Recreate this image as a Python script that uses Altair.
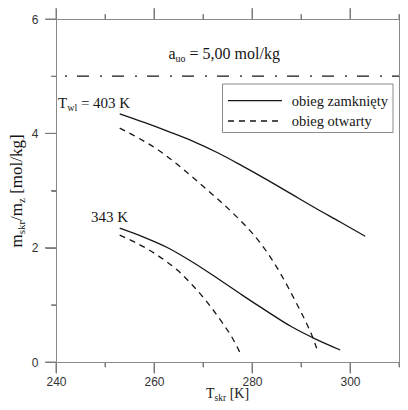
import altair as alt
import pandas as pd

# ---- data ----
x_major = [240, 260, 280, 300]
x_minor = [250, 270, 290, 310]
y_major = [0, 2, 4, 6]
y_minor = [1, 3, 5]

T_403_closed = [253, 258, 263, 268, 273, 278, 283, 288, 293, 298, 303.1]
m_403_closed = [4.34, 4.19, 4.03, 3.86, 3.66, 3.43, 3.19, 2.94, 2.69, 2.45, 2.20]
T_403_open = [253, 257, 261, 265, 269, 273, 277, 280, 283, 286, 289, 291, 292.3, 293.2]
m_403_open = [4.09, 3.91, 3.70, 3.44, 3.15, 2.85, 2.53, 2.26, 1.93, 1.52, 1.04, 0.70, 0.45, 0.24]
T_343_closed = [253, 258, 263, 268, 273, 278, 283, 288, 293, 298]
m_343_closed = [2.34, 2.18, 1.99, 1.74, 1.46, 1.17, 0.89, 0.62, 0.40, 0.21]
T_343_open = [253, 256, 259, 262, 265, 268, 271, 274, 276, 277.8]
m_343_open = [2.22, 2.10, 1.96, 1.79, 1.59, 1.33, 1.03, 0.68, 0.42, 0.12]

a_uo = 5.00

legend_labels = ["obieg zamknięty", "obieg otwarty"]

GRAY = "#8a8a8a"
TICK = "#7a7a7a"
INK = "#161616"
SERIF = "Liberation Serif"
W, H = 343, 343
MAJ, MIN = 11, 5

xscale = alt.Scale(domain=[240, 310], nice=False, zero=False)
yscale = alt.Scale(domain=[0, 6], nice=False, zero=False)

lab = dict(labelFont="Liberation Sans", labelFontSize=12, labelColor="#333",
           labelFlush=False, labelOverlap=False)
tk = dict(ticks=True, tickColor=TICK, tickWidth=1, gridOpacity=0, title=None, zindex=3)

ax = {
    "xb": alt.Axis(orient="bottom", values=x_major, tickSize=MAJ, domainColor=GRAY,
                   labelPadding=3, **tk, **lab),
    "yl": alt.Axis(orient="left", values=y_major, tickSize=MAJ, domainColor=GRAY,
                   labelPadding=7, **tk, **lab),
    "xt": alt.Axis(orient="top", values=x_major, tickSize=MAJ, domainColor=GRAY,
                   labels=False, **tk),
    "yr": alt.Axis(orient="right", values=y_major, tickSize=MAJ, domainColor=GRAY,
                   labels=False, **tk),
    "xbm": alt.Axis(orient="bottom", values=x_minor, tickSize=MIN, domain=False,
                    labels=False, **tk),
    "ylm": alt.Axis(orient="left", values=y_minor, tickSize=MIN, domain=False,
                    labels=False, **tk),
    "xtm": alt.Axis(orient="top", values=x_minor, tickSize=MIN, domain=False,
                    labels=False, **tk),
    "yrm": alt.Axis(orient="right", values=y_minor, tickSize=MIN, domain=False,
                    labels=False, **tk),
}


def curve(Ts, ms, dashed, xa, ya):
    d = pd.DataFrame({"T": Ts, "m": ms})
    kw = dict(interpolate="monotone", strokeWidth=1.3, color=INK)
    if dashed:
        kw["strokeDash"] = [6, 5]
    return alt.Chart(d).mark_line(**kw).encode(
        x=alt.X("T:Q", scale=xscale, axis=ax[xa]),
        y=alt.Y("m:Q", scale=yscale, axis=ax[ya]),
    )


c1 = curve(T_403_closed, m_403_closed, False, "xb", "yl")
c2 = curve(T_403_open, m_403_open, True, "xt", "yr")
c3 = curve(T_343_closed, m_343_closed, False, "xbm", "ylm")
c4 = curve(T_343_open, m_343_open, True, "xtm", "yrm")


# tick marks placed through the shared scales, drawn last (on top of everything)
def xticks(vals, y0, y1):
    return alt.Chart(pd.DataFrame({"v": vals})).mark_rule(
        color=TICK, strokeWidth=1, strokeDash=[1, 0]
    ).encode(x=alt.X("v:Q", scale=xscale, axis=None), y=alt.value(y0), y2=alt.value(y1))


def yticks(vals, x0, x1):
    return alt.Chart(pd.DataFrame({"v": vals})).mark_rule(
        color=TICK, strokeWidth=1, strokeDash=[1, 0]
    ).encode(y=alt.Y("v:Q", scale=yscale, axis=None), x=alt.value(x0), x2=alt.value(x1))


ticks = [
    xticks(x_major, H, H + MAJ), xticks(x_minor, H, H + MIN),
    xticks(x_major, 0, -MAJ), xticks(x_minor, 0, -MIN),
    yticks(y_major, 0, -MAJ), yticks(y_minor, 0, -MIN),
    yticks(y_major, W, W + MAJ), yticks(y_minor, W, W + MIN),
]

limit = alt.Chart(pd.DataFrame({"a_uo": [a_uo]})).mark_rule(
    color=INK, strokeWidth=1.3, strokeDash=[12, 10, 2, 11], strokeDashOffset=5
).encode(y=alt.Y("a_uo:Q", scale=yscale, axis=None))


def txt(s, x, y, size, dx=0, dy=0, align="left", angle=0):
    return alt.Chart(pd.DataFrame({"t": [s]})).mark_text(
        font=SERIF, fontSize=size, align=align, baseline="alphabetic",
        dx=dx, dy=dy, angle=angle, color=INK
    ).encode(x=alt.value(x), y=alt.value(y), text="t:N")


texts = [
    # annotation a_uo
    txt("a", 112.5, 40, 16),
    txt("uo", 112.5, 40, 10, dx=7.1, dy=3),
    txt("= 5,00 mol/kg", 112.5, 40, 16, dx=21.1),
    # curve labels
    txt("T", 2, 88.5, 15),
    txt("wl", 2, 88.5, 10, dx=9.2, dy=3),
    txt("= 403 K", 2, 88.5, 15, dx=22.9),
    txt("343 K", 72, 203, 15, align="right"),
    # x title
    txt("T", 150, 379, 14),
    txt("skr", 150, 379, 9.5, dx=8.6, dy=2.5),
    txt("[K]", 150, 379, 14, dx=23.7),
    # y title (rotated)
    txt("m", -34.2, 228.5, 17, angle=270),
    txt("skr", -34.2, 228.5, 11, dx=13.2, dy=3.5, angle=270),
    txt("/m", -34.2, 228.5, 17, dx=26.6, angle=270),
    txt("z", -34.2, 228.5, 11, dx=44.5, dy=3.5, angle=270),
    txt("[mol/kg]", -34.2, 228.5, 17, dx=53.65, angle=270),
]

one = pd.DataFrame({"t": [0]})
leg_box = alt.Chart(one).mark_rect(fill="white", stroke=GRAY, strokeWidth=1).encode(
    x=alt.value(166.5), x2=alt.value(337), y=alt.value(65), y2=alt.value(113.5))
leg_solid = alt.Chart(one).mark_rule(color=INK, strokeWidth=1.3).encode(
    x=alt.value(172), x2=alt.value(226), y=alt.value(81.7))
leg_dash = alt.Chart(one).mark_rule(color=INK, strokeWidth=1.3, strokeDash=[6, 5]).encode(
    x=alt.value(172), x2=alt.value(226), y=alt.value(102))
leg_t1 = txt(legend_labels[0], 235.7, 87, 14.5)
leg_t2 = txt(legend_labels[1], 235.7, 107, 14.5)

chart = alt.layer(
    c1, c2, c3, c4, limit, leg_box, leg_solid, leg_dash, leg_t1, leg_t2, *texts, *ticks
).resolve_axis(x="independent", y="independent").properties(
    width=W, height=H,
    padding={"left": 48, "top": 11, "right": 1, "bottom": 40},
    autosize=alt.AutoSizeParams(type="none"),
    background="white",
).configure_view(stroke=None)

chart.save("out.html", embed_options={"renderer": "svg", "actions": False})
